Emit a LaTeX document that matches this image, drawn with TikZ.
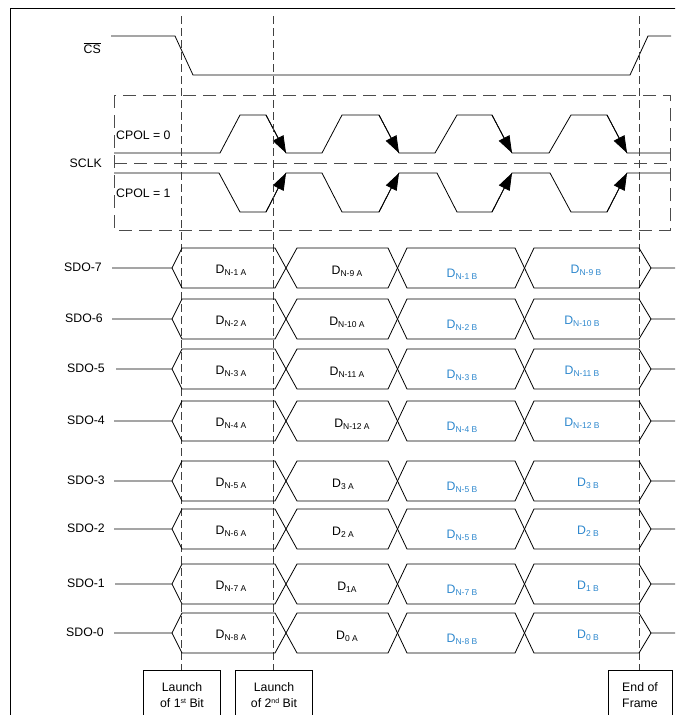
\documentclass[tikz,border=0pt]{standalone}
\usepackage{fontspec}
\setmainfont{Liberation Sans}
\usetikzlibrary{arrows.meta}
\definecolor{dblue}{RGB}{45,135,205}
\newcommand\Dsub[1]{D\raisebox{-2pt}{\fontsize{8.5}{9}\selectfont #1}}
\begin{document}
\begin{tikzpicture}[x=1pt,y=-1pt,
  font=\fontsize{12.3}{16}\selectfont,
  wave/.style={line width=0.8pt},
  arr/.style={-{Triangle[length=17pt,width=12pt]}},
  vdash/.style={line width=0.8pt, black!75, dash pattern=on 8pt off 4pt},
  boxdash/.style={line width=0.8pt, black!70, dash pattern=on 13pt off 7pt},
  lbl/.style={inner sep=0pt}]
\useasboundingbox (0,0) rectangle (675,715);
\clip (0,0) rectangle (675,715);
% frame
\draw[line width=0.8pt] (10,720) -- (10,8) -- (680,8);
% CS
\node[lbl, anchor=east] (cslab) at (101,48) {$\overline{\hbox{CS}}$};
\draw[wave] (111,36) -- (175,36) -- (193,75) -- (630,75) -- (648,36) -- (671,36);
% SCLK box
\draw[boxdash] (114,95) rectangle (670,230);
\draw[boxdash] (114,163) -- (670,163);
\node[lbl, anchor=east] (sclk) at (102,163) {SCLK};
\node[lbl, anchor=west] (cp0) at (116,135) {CPOL = 0};
\node[lbl, anchor=west] (cp1) at (116,193) {CPOL = 1};
% CPOL = 0
\draw[wave] (114,153) -- (220,153) -- (240,115) -- (266,115) -- (286,153) -- (322,153) -- (342,115) -- (379,115) -- (399,153) -- (435,153) -- (457,115) -- (492,115) -- (512,153) -- (549,153) -- (571,115) -- (607,115) -- (627,153) -- (670,153);
\foreach \a/\b in {266/286,379/399,492/512,607/627}
  \draw[wave,arr] (\a,115) -- (\b,153);
% CPOL = 1
\draw[wave] (114,173) -- (219,173) -- (240,212) -- (266,212) -- (286,173) -- (322,173) -- (342,212) -- (379,212) -- (399,173) -- (437,173) -- (457,212) -- (492,212) -- (512,173) -- (550,173) -- (571,212) -- (607,212) -- (627,173) -- (670,173);
\foreach \a/\b in {266/286,379/399,492/512,607/627}
  \draw[wave,arr] (\a,212) -- (\b,173);
% vertical dashed lines
\draw[vdash] (181,16) -- (181,670);
\draw[vdash] (273,16) -- (273,670);
\draw[vdash] (639,16) -- (639,670);
% SDO rows
\foreach \c/\lab/\lx/\sx/\ta/\tb/\bx/\tc/\td/\dx in {
  268/SDO-7/102/112/N-1 A/N-9 A/347/N-1 B/N-9 B/586,
  319/SDO-6/103/112/N-2 A/N-10 A/347/N-2 B/N-10 B/582,
  369/SDO-5/105/116/N-3 A/N-11 A/347/N-3 B/N-11 B/582,
  421/SDO-4/105/114/N-4 A/N-12 A/352/N-4 B/N-12 B/582,
  481/SDO-3/105/114/N-5 A/3 A/343/N-5 B/3 B/588,
  529/SDO-2/105/114/N-6 A/2 A/343/N-5 B/2 B/588,
  584/SDO-1/105/115/N-7 A/1A/347/N-7 B/1 B/588,
  633/SDO-0/104/114/N-8 A/0 A/347/N-8 B/0 B/588}{
  \node[lbl, anchor=east] (lab\c) at (\lx,\c-1) {\lab};
  \draw[wave] (\sx,\c) -- (172,\c) -- (182,\c-20) -- (275,\c-20) -- (297,\c+20) -- (388,\c+20) -- (407,\c-20) -- (515,\c-20) -- (534,\c+20) -- (639,\c+20) -- (651,\c) -- (675,\c);
  \draw[wave] (172,\c) -- (182,\c+20) -- (275,\c+20) -- (297,\c-20) -- (388,\c-20) -- (407,\c+20) -- (515,\c+20) -- (534,\c-20) -- (639,\c-20) -- (651,\c);
  \node[lbl] (a\c) at (231,\c+2) {\Dsub{\ta}};
  \node[lbl] (b\c) at (\bx,\c+3) {\Dsub{\tb}};
  \node[lbl, text=dblue] (c\c) at (462,\c+6) {\Dsub{\tc}};
  \node[lbl, text=dblue] (d\c) at (\dx,\c+2) {\Dsub{\td}};
}
% bottom boxes
\draw[wave] (143,725) -- (143,670) -- (220,670) -- (220,725);
\draw[wave] (235,725) -- (235,670) -- (312,670) -- (312,725);
\draw[wave] (608,725) -- (608,670) -- (672,670) -- (672,725);
\node[lbl, align=center] (l1) at (182,695) {Launch\\of 1\raisebox{4pt}{\fontsize{7}{8}\selectfont st} Bit};
\node[lbl, align=center] (l2) at (274,695) {Launch\\of 2\raisebox{4pt}{\fontsize{7}{8}\selectfont nd} Bit};
\node[lbl, align=center] (l3) at (640,695) {End of\\Frame};
\end{tikzpicture}
\end{document}
